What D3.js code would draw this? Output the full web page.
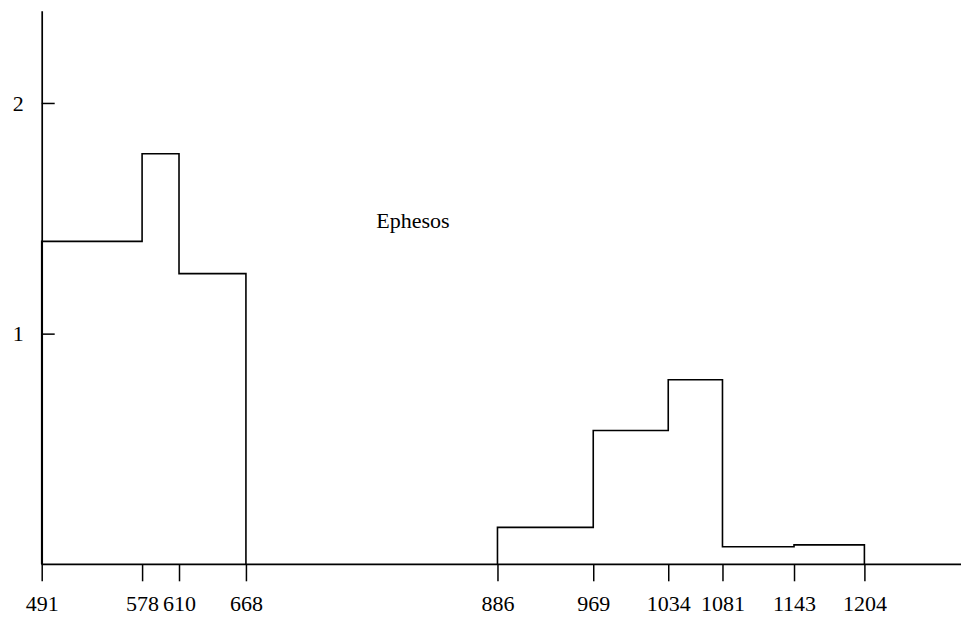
<!DOCTYPE html>
<html>
<head>
<meta charset="utf-8">
<script src="https://cdn.jsdelivr.net/npm/d3@7"></script>
<style>
  body { margin: 0; background: #fff; }
  svg text { font-family: "Liberation Serif", "Times New Roman", serif; fill: #000; }
</style>
</head>
<body>
<div id="chart"></div>
<script>
// bin edges shown on the x axis
var tickEdges = [491, 578, 610, 668, 886, 969, 1034, 1081, 1143, 1204];

// first block of bins (edges and heights)
var leftEdges = [491, 578, 610, 668];
var leftHeights = [1.40, 1.78, 1.26];

// second block of bins
var rightEdges = [886, 969, 1034, 1081, 1143, 1204];
var rightHeights = [0.16, 0.58, 0.80, 0.076, 0.084];

var yTicks = [1, 2];
var siteLabel = "Ephesos";
var labelPos = [781, 1.46];

var width = 961, height = 619;

var svg = d3.select("#chart").append("svg")
    .attr("width", width)
    .attr("height", height);

var x = d3.scaleLinear().domain([491, 1204]).range([41.7, 864.4]);
var y = d3.scaleLinear().domain([0, 2.4]).range([564.3, 10.7]);

// x axis baseline runs to the right edge
svg.append("line")
    .attr("x1", x(491)).attr("x2", width)
    .attr("y1", y(0)).attr("y2", y(0))
    .attr("stroke", "#000").attr("stroke-width", 1.7);

var xAxis = svg.append("g")
    .attr("transform", "translate(0," + y(0) + ")")
    .call(d3.axisBottom(x)
        .tickValues(tickEdges)
        .tickFormat(d3.format("d"))
        .tickSizeInner(17)
        .tickSizeOuter(0)
        .tickPadding(14));
xAxis.select(".domain").remove();
xAxis.selectAll(".tick line").attr("stroke", "#000").attr("stroke-width", 1.5);
xAxis.selectAll("text").style("font-size", "22px").style("font-family", "'Liberation Serif', 'Times New Roman', serif");

var yAxis = svg.append("g")
    .attr("transform", "translate(" + x(491) + ",0)")
    .call(d3.axisLeft(y)
        .tickValues(yTicks)
        .tickFormat(d3.format("d"))
        .tickSizeInner(-13)
        .tickSizeOuter(0)
        .tickPadding(18));
yAxis.select(".domain").attr("stroke", "#000").attr("stroke-width", 1.7);
yAxis.selectAll(".tick line").attr("stroke", "#000").attr("stroke-width", 1.5);
yAxis.selectAll("text").style("font-size", "22px").style("font-family", "'Liberation Serif', 'Times New Roman', serif");

// step outline helper
var stepLine = d3.line()
    .x(function(d) { return x(d[0]); })
    .y(function(d) { return y(d[1]); })
    .curve(d3.curveStepAfter);

function outlinePoints(edges, heights) {
    var pts = [[edges[0], 0]];
    heights.forEach(function(h, i) { pts.push([edges[i], h]); });
    pts.push([edges[edges.length - 1], 0]);
    return pts;
}

[[leftEdges, leftHeights], [rightEdges, rightHeights]].forEach(function(b) {
    svg.append("path")
        .attr("d", stepLine(outlinePoints(b[0], b[1])))
        .attr("fill", "none")
        .attr("stroke", "#000")
        .attr("stroke-width", 1.6);
});

svg.append("text")
    .attr("x", x(labelPos[0]))
    .attr("y", y(labelPos[1]))
    .style("font-size", "22px")
    .text(siteLabel);
</script>
</body>
</html>
